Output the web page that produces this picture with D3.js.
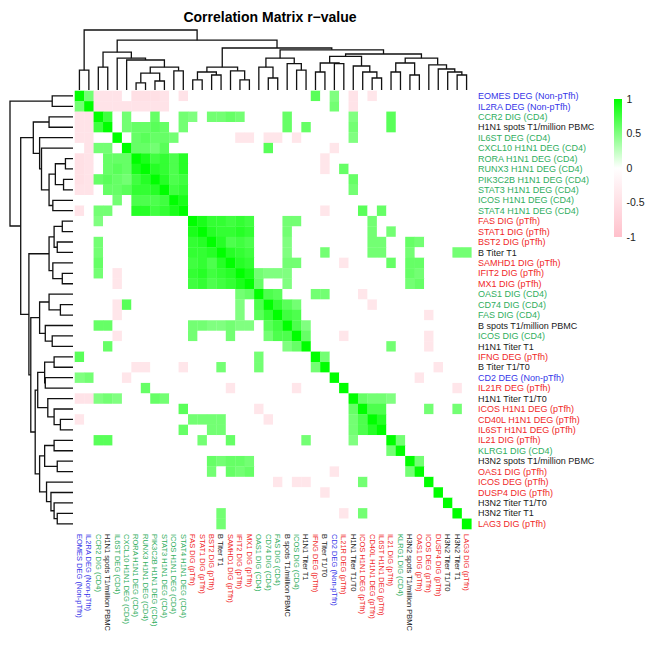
<!DOCTYPE html>
<html>
<head>
<meta charset="utf-8">
<script src="https://cdn.jsdelivr.net/npm/d3@7"></script>
<style>
  body { margin: 0; background: #fff; }
  svg { display: block; font-family: "Liberation Sans", Arial, sans-serif; }
</style>
</head>
<body>
<svg id="svg" width="654" height="649"></svg>
<script>
// variables, in the order of the clustered matrix (rows top->bottom, columns left->right)
const labels = [
  "EOMES DEG (Non-pTfh)", "IL2RA DEG (Non-pTfh)", "CCR2 DIG (CD4)", "H1N1 spots T1/million PBMC",
  "IL6ST DEG (CD4)", "CXCL10 H1N1 DEG (CD4)", "RORA H1N1 DEG (CD4)", "RUNX3 H1N1 DEG (CD4)",
  "PIK3C2B H1N1 DEG (CD4)", "STAT3 H1N1 DEG (CD4)", "ICOS H1N1 DEG (CD4)", "STAT4 H1N1 DEG (CD4)",
  "FAS DIG (pTfh)", "STAT1 DIG (pTfh)", "BST2 DIG (pTfh)", "B Titer T1",
  "SAMHD1 DIG (pTfh)", "IFIT2 DIG (pTfh)", "MX1 DIG (pTfh)", "OAS1 DIG (CD4)",
  "CD74 DIG (CD4)", "FAS DIG (CD4)", "B spots T1/million PBMC", "ICOS DIG (CD4)",
  "H1N1 Titer T1", "IFNG DEG (pTfh)", "B Titer T1/T0", "CD2 DEG (Non-pTfh)",
  "IL21R DEG (pTfh)", "H1N1 Titer T1/T0", "ICOS H1N1 DEG (pTfh)", "CD40L H1N1 DEG (pTfh)",
  "IL6ST H1N1 DEG (pTfh)", "IL21 DIG (pTfh)", "KLRG1 DIG (CD4)", "H3N2 spots T1/million PBMC",
  "OAS1 DIG (pTfh)", "ICOS DEG (pTfh)", "DUSP4 DIG (pTfh)", "H3N2 Titer T1/T0",
  "H3N2 Titer T1", "LAG3 DIG (pTfh)"
];

// significant r values, upper triangle [row, col, r] (1-based), the rest is 0, diagonal is 1
const pairs = [
  [1,2,0.55],[1,3,-0.45],[1,4,-0.45],[1,5,-0.45],[1,7,-0.5],[1,8,-0.5],[1,9,-0.5],[1,10,-0.45],
  [1,12,-0.45],[1,26,0.65],[1,28,0.5],[1,30,-0.45],[1,32,-0.4],
  [2,3,-0.45],[2,4,-0.45],[2,5,-0.45],[2,6,-0.45],[2,7,-0.45],[2,8,-0.45],[2,9,-0.45],[2,10,-0.45],
  [2,28,0.55],[2,30,-0.45],
  [3,4,0.75],[3,6,0.55],[3,9,0.6],[3,12,0.55],[3,13,0.5],[3,15,0.55],[3,16,0.55],[3,17,0.6],
  [3,18,0.55],[3,23,0.6],[3,30,0.5],[3,34,0.65],
  [4,6,0.55],[4,7,0.6],[4,8,0.6],[4,9,0.65],[4,10,0.6],[4,12,0.55],[4,23,0.6],[4,25,0.6],
  [4,30,0.55],[4,34,0.65],
  [5,7,0.6],[5,8,0.65],[5,9,0.6],[5,10,0.6],[5,11,0.55],[5,18,-0.4],[5,19,-0.4],[5,21,-0.4],
  [5,22,-0.4],[5,24,-0.4],[5,30,0.5],
  [6,7,0.6],[6,8,0.6],[6,9,0.55],[6,10,0.65],[6,21,0.65],[6,28,-0.4],
  [7,8,0.9],[7,9,0.75],[7,10,0.8],[7,11,0.7],[7,12,0.85],[7,27,-0.4],
  [8,9,0.85],[8,10,0.8],[8,11,0.7],[8,12,0.85],[8,27,-0.4],[8,29,0.6],
  [9,10,0.85],[9,11,0.7],[9,12,0.75],[9,30,0.6],
  [10,11,0.75],[10,12,0.8],[10,30,0.55],
  [11,12,0.9],
  [12,27,-0.4],[12,31,0.65],[12,33,0.6],
  [13,14,0.9],[13,15,0.8],[13,16,0.8],[13,17,0.75],[13,18,0.8],[13,19,0.75],[13,23,0.55],
  [13,24,0.55],[13,32,0.55],
  [14,15,0.85],[14,16,0.8],[14,17,0.8],[14,18,0.85],[14,19,0.8],[14,23,0.55],[14,32,0.55],[14,34,0.55],
  [15,16,0.85],[15,17,0.7],[15,18,0.75],[15,19,0.7],[15,23,0.5],[15,32,0.55],[15,33,0.55],
  [15,36,0.6],[15,37,0.55],
  [16,17,0.85],[16,18,0.8],[16,19,0.75],[16,23,0.5],[16,27,0.55],[16,32,0.55],[16,33,0.55],
  [16,36,0.55],[16,41,0.55],[16,42,0.55],
  [17,18,0.85],[17,19,0.8],[17,23,0.55],[17,24,0.55],[17,29,-0.4],[17,34,0.6],[17,36,0.6],[17,37,0.6],
  [18,19,0.9],[18,20,0.55],[18,21,0.5],[18,22,0.5],[18,23,0.5],[18,36,0.6],[18,37,0.55],
  [19,20,0.6],[19,23,0.5],[19,36,0.55],[19,37,0.6],
  [20,21,0.7],[20,22,0.65],[20,26,0.55],[20,27,0.55],[20,31,-0.4],
  [21,22,0.8],[21,23,0.65],[21,24,0.55],[21,32,-0.4],
  [22,23,0.75],[22,24,0.7],[22,38,-0.4],
  [23,24,0.7],[23,25,0.5],
  [24,25,0.6],[24,29,-0.4],[24,38,-0.4],
  [25,34,0.55],[25,38,-0.4],
  [26,27,0.55],
  [27,39,-0.4],
  [28,37,-0.4],
  [29,41,-0.4],
  [30,31,0.6],[30,32,0.55],[30,33,0.55],[30,34,0.5],
  [31,32,0.7],[31,33,0.7],[31,38,0.55],[31,41,0.55],
  [32,33,0.85],
  [34,35,0.55],
  [36,37,0.55]
];

// hierarchical clustering: [height, left, right], leaves are 1-based indexes
const tree =
  [1.0, [0.33, 1, 2],
    [0.83,
      [0.63, [0.38, 3, 4],
        [0.53, 5, [0.5, 6, [0.38, [0.28, [0.12, 7, 8], [0.15, 9, 10]], [0.32, 11, 12]]]]],
      [0.70,
        [0.38, [0.3, [0.17, 13, 14], [0.25, 15, 16]], [0.32, 17, [0.17, 18, 19]]],
        [0.67,
          [0.53, [0.38, 20, [0.2, 21, 22]], [0.44, 23, [0.33, 24, 25]]],
          [0.6,
            [0.56, [0.45, [0.3, 26, 27], [0.44, 28, 29]], [0.4, 30, [0.3, 31, [0.2, 32, 33]]]],
            [0.53, [0.45, [0.3, 34, 35], [0.25, 36, 37]],
              [0.42, 38, [0.35, 39, [0.3, 40, [0.25, 41, 42]]]]]]]]]];

const legendTicks = [1, 0.5, 0, -0.5, -1];

const n = labels.length;
const svg = d3.select("#svg");

// build full symmetric matrix
let matrix = d3.range(n).map(i => d3.range(n).map(j => (i === j ? 1 : 0)));
pairs.forEach(([a, b, r]) => {
  matrix[a - 1][b - 1] = r;
  matrix[b - 1][a - 1] = r;
});
let cells = [];
matrix.forEach((row, i) => row.forEach((v, j) => cells.push({ i, j, v })));

const xScale = d3.scaleBand().domain(d3.range(n)).range([74.7, 471.3]);
const yScale = d3.scaleBand().domain(d3.range(n)).range([90.7, 529]);
const color = d3.scaleLinear().domain([-1, 0, 1]).range(["#ffc0cb", "#ffffff", "#00ff00"]);

function labelColour(s) {
  if (s.includes("Non-pTfh")) return "#3535e8";
  if (s.includes("(CD4)")) return "#2fae5e";
  if (s.includes("(pTfh)")) return "#f02828";
  return "#1a1a1a";
}

// heatmap cells
svg.append("g")
  .selectAll("rect")
  .data(cells)
  .enter().append("rect")
  .attr("x", d => xScale(d.j))
  .attr("y", d => yScale(d.i))
  .attr("width", xScale.bandwidth() + 0.3)
  .attr("height", yScale.bandwidth() + 0.3)
  .attr("fill", d => color(d.v));

// dendrograms
let segs = [];
function layout(node) {
  if (typeof node === "number") return { pos: node - 1, h: 0 };
  const a = layout(node[1]);
  const b = layout(node[2]);
  segs.push({ h: node[0], a, b });
  return { pos: (a.pos + b.pos) / 2, h: node[0] };
}
layout(tree);

const mid = (scale, p) => {
  const lo = Math.floor(p), frac = p - lo;
  return scale(lo) + scale.bandwidth() / 2 + frac * scale.step();
};
const topH = d3.scaleLinear().domain([0, 1]).range([90, 30]);
const leftH = d3.scaleLinear().domain([0, 1]).range([73, 10]);

svg.append("g")
  .selectAll("path")
  .data(segs)
  .enter().append("path")
  .attr("d", s => {
    const xa = mid(xScale, s.a.pos), xb = mid(xScale, s.b.pos);
    return `M${xa},${topH(s.a.h)}V${topH(s.h)}H${xb}V${topH(s.b.h)}`;
  })
  .attr("fill", "none")
  .attr("stroke", "#111")
  .attr("stroke-width", 1.3);

svg.append("g")
  .selectAll("path")
  .data(segs)
  .enter().append("path")
  .attr("d", s => {
    const ya = mid(yScale, s.a.pos), yb = mid(yScale, s.b.pos);
    return `M${leftH(s.a.h)},${ya}H${leftH(s.h)}V${yb}H${leftH(s.b.h)}`;
  })
  .attr("fill", "none")
  .attr("stroke", "#111")
  .attr("stroke-width", 1.3);

// row labels
svg.append("g")
  .selectAll("text")
  .data(labels)
  .enter().append("text")
  .attr("x", 478)
  .attr("y", (d, i) => yScale(i) + yScale.bandwidth() / 2)
  .attr("dy", "0.35em")
  .style("font-size", "9px")
  .attr("fill", d => labelColour(d))
  .text(d => d);

// column labels
svg.append("g")
  .selectAll("text")
  .data(labels)
  .enter().append("text")
  .attr("transform", (d, i) => `translate(${xScale(i) + xScale.bandwidth() / 2},534) rotate(90)`)
  .attr("dy", "0.35em")
  .style("font-size", "7.5px")
  .attr("fill", d => labelColour(d))
  .text(d => d);

// colour key
const defs = svg.append("defs");
const grad = defs.append("linearGradient")
  .attr("id", "key").attr("x1", 0).attr("y1", 0).attr("x2", 0).attr("y2", 1);
grad.selectAll("stop")
  .data(d3.range(0, 1.0001, 0.05))
  .enter().append("stop")
  .attr("offset", t => t)
  .attr("stop-color", t => color(1 - 2 * t));

const keyScale = d3.scaleLinear().domain([1, -1]).range([99, 237]);
svg.append("rect")
  .attr("x", 614).attr("y", keyScale(1))
  .attr("width", 8).attr("height", keyScale(-1) - keyScale(1))
  .attr("fill", "url(#key)");
svg.append("g")
  .selectAll("text")
  .data(legendTicks)
  .enter().append("text")
  .attr("x", 626.5)
  .attr("y", d => keyScale(d))
  .attr("dy", "0.35em")
  .style("font-size", "10.5px")
  .attr("fill", "#222")
  .text(d => d);

// title
svg.append("text")
  .attr("x", 270)
  .attr("y", 22)
  .attr("text-anchor", "middle")
  .style("font-size", "14px")
  .style("font-weight", "bold")
  .text("Correlation Matrix r\u2212value");
</script>
</body>
</html>
